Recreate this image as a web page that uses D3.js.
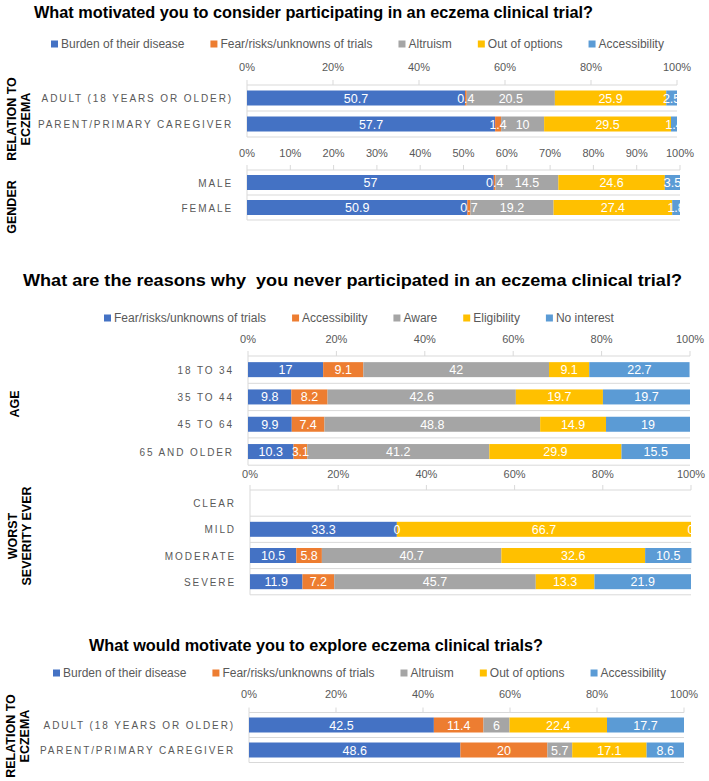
<!DOCTYPE html>
<html>
<head>
<meta charset="utf-8">
<script src="https://cdn.jsdelivr.net/npm/d3@7"></script>
<style>
  body { margin: 0; background: #fff; }
</style>
</head>
<body>
<div id="vis"></div>
<script>
// series names for the two kinds of chart
var motiveSeries = ['Burden of their disease', 'Fear/risks/unknowns of trials', 'Altruism', 'Out of options', 'Accessibility'];
var reasonSeries = ['Fear/risks/unknowns of trials', 'Accessibility', 'Aware', 'Eligibility', 'No interest'];
var seriesColors = ['#4472C4', '#ED7D31', '#A5A5A5', '#FFC000', '#5B9BD5'];

// categories
var relationCats = ['ADULT (18 YEARS OR OLDER)', 'PARENT/PRIMARY CAREGIVER'];
var genderCats = ['MALE', 'FEMALE'];
var ageCats = ['18 TO 34', '35 TO 44', '45 TO 64', '65 AND OLDER'];
var severityCats = ['CLEAR', 'MILD', 'MODERATE', 'SEVERE'];

// values, one row per category, one column per series
var relationValues = [
  [50.7, 0.4, 20.5, 25.9, 2.5],
  [57.7, 1.4, 10, 29.5, 1.4]
];
var genderValues = [
  [57, 0.4, 14.5, 24.6, 3.5],
  [50.9, 0.7, 19.2, 27.4, 1.8]
];
var ageValues = [
  [17, 9.1, 42, 9.1, 22.7],
  [9.8, 8.2, 42.6, 19.7, 19.7],
  [9.9, 7.4, 48.8, 14.9, 19],
  [10.3, 3.1, 41.2, 29.9, 15.5]
];
var severityValues = [
  [null, null, null, null, null],
  [33.3, 0, null, 66.7, 0],
  [10.5, 5.8, 40.7, 32.6, 10.5],
  [11.9, 7.2, 45.7, 13.3, 21.9]
];
var exploreValues = [
  [42.5, 11.4, 6, 22.4, 17.7],
  [48.6, 20, 5.7, 17.1, 8.6]
];

// tick values of the percent axes
var ticks20 = [0, 20, 40, 60, 80, 100];
var ticks10 = [0, 10, 20, 30, 40, 50, 60, 70, 80, 90, 100];

var width = 709;
var height = 781;
var gray = '#595959';
var lineColor = '#D9D9D9';
var barH = 15;

var svg = d3.select('#vis').append('svg')
  .attr('width', width)
  .attr('height', height)
  .style('font-family', '"Liberation Sans", Arial, sans-serif');

function addTitle(txt, x, y, len) {
  svg.append('text')
    .attr('x', x)
    .attr('y', y)
    .attr('font-size', 16)
    .attr('font-weight', 'bold')
    .attr('fill', '#000')
    .attr('textLength', len)
    .attr('lengthAdjust', 'spacingAndGlyphs')
    .style('white-space', 'pre')
    .text(txt);
}

function addLegend(names, x, y) {
  var g = svg.append('g');
  var cx = x;
  names.forEach(function (name, i) {
    g.append('rect')
      .attr('x', cx).attr('y', y - 3.5)
      .attr('width', 7).attr('height', 7)
      .attr('fill', seriesColors[i]);
    var t = g.append('text')
      .attr('x', cx + 10).attr('y', y + 4)
      .attr('font-size', 12)
      .attr('fill', gray)
      .text(name);
    cx += 10 + t.node().getComputedTextLength() + 26;
  });
}

// rotated group label, one or two lines
function addGroupLabel(lines, x, y) {
  lines.forEach(function (line, i) {
    var lx = x + i * 14;
    svg.append('text')
      .attr('x', lx).attr('y', y)
      .attr('transform', 'rotate(-90,' + lx + ',' + y + ')')
      .attr('text-anchor', 'middle')
      .attr('dominant-baseline', 'central')
      .attr('font-size', 12.5)
      .attr('font-weight', 'bold')
      .attr('fill', '#000')
      .text(line);
  });
}

// one horizontal 100% stacked bar panel
function drawPanel(cfg) {
  var x = d3.scaleLinear().domain([0, 100]).range([cfg.x0, cfg.x1]);
  var y = d3.scaleBand().domain(cfg.cats).range([cfg.top, cfg.top + cfg.band * cfg.cats.length]);
  var g = svg.append('g');
  var bottom = y.range()[1];

  // tick labels above the axis
  g.selectAll('.tl').data(cfg.ticks).enter().append('text')
    .attr('x', function (d) { return x(d); })
    .attr('y', cfg.labelY + 4)
    .attr('text-anchor', 'middle')
    .attr('font-size', 11)
    .attr('fill', gray)
    .text(function (d) { return d + '%'; });

  // axis line with tick marks
  g.append('line')
    .attr('x1', x(0)).attr('x2', x(100))
    .attr('y1', cfg.top).attr('y2', cfg.top)
    .attr('stroke', lineColor);
  g.selectAll('.tk').data(cfg.ticks).enter().append('line')
    .attr('x1', function (d) { return x(d); })
    .attr('x2', function (d) { return x(d); })
    .attr('y1', cfg.top - 5).attr('y2', cfg.top)
    .attr('stroke', lineColor);

  // category separators
  g.selectAll('.sep').data(cfg.cats).enter().append('line')
    .attr('x1', x(0)).attr('x2', x(100))
    .attr('y1', function (d) { return y(d) + y.bandwidth(); })
    .attr('y2', function (d) { return y(d) + y.bandwidth(); })
    .attr('stroke', lineColor);
  g.append('line')
    .attr('x1', x(0)).attr('x2', x(0))
    .attr('y1', cfg.top).attr('y2', bottom)
    .attr('stroke', lineColor);

  // category labels
  g.selectAll('.cat').data(cfg.cats).enter().append('text')
    .attr('x', x(0) - 14)
    .attr('y', function (d) { return y(d) + y.bandwidth() / 2 + 4; })
    .attr('text-anchor', 'end')
    .attr('font-size', 10)
    .attr('letter-spacing', 1.9)
    .attr('fill', gray)
    .text(function (d) { return d; });

  // stacked segments
  cfg.values.forEach(function (row, ci) {
    var acc = 0;
    var yy = y(cfg.cats[ci]) + (y.bandwidth() - barH) / 2;
    row.forEach(function (v, si) {
      if (v === null) return;
      var xs = x(acc);
      var xe = x(acc + v);
      g.append('rect')
        .attr('x', xs).attr('y', yy)
        .attr('width', xe - xs).attr('height', barH)
        .attr('fill', seriesColors[si]);
      acc += v;
    });
    acc = 0;
    row.forEach(function (v) {
      if (v === null) return;
      g.append('text')
        .attr('x', x(acc + v / 2))
        .attr('y', yy + barH / 2 + 4.5)
        .attr('text-anchor', 'middle')
        .attr('font-size', 12.5)
        .attr('fill', '#fff')
        .text(v);
      acc += v;
    });
  });
}

// section 1
addTitle('What motivated you to consider participating in an eczema clinical trial?', 34, 18, 559);
addLegend(motiveSeries, 51, 44);
drawPanel({ cats: relationCats, values: relationValues, ticks: ticks20, x0: 247, x1: 677, top: 85, band: 26, labelY: 67 });
drawPanel({ cats: genderCats, values: genderValues, ticks: ticks10, x0: 247, x1: 680, top: 170, band: 25, labelY: 153 });
addGroupLabel(['RELATION  TO', 'ECZEMA'], 12, 119);
addGroupLabel(['GENDER'], 12, 207);

// section 2
addTitle('What are the reasons why  you never participated in an eczema clinical trial?', 23, 286, 659);
addLegend(reasonSeries, 104, 318);
drawPanel({ cats: ageCats, values: ageValues, ticks: ticks20, x0: 248, x1: 690, top: 356, band: 27.3, labelY: 339 });
drawPanel({ cats: severityCats, values: severityValues, ticks: ticks20, x0: 250, x1: 691, top: 490, band: 26.2, labelY: 474 });
addGroupLabel(['AGE'], 15, 404);
addGroupLabel(['WORST', 'SEVERITY  EVER'], 13, 536);

// section 3
addTitle('What would motivate you to explore eczema clinical trials?', 89, 651, 454);
addLegend(motiveSeries, 53, 673);
drawPanel({ cats: relationCats, values: exploreValues, ticks: ticks20, x0: 249, x1: 684, top: 712.5, band: 25, labelY: 694 });
addGroupLabel(['RELATION  TO', 'ECZEMA'], 11, 736);
</script>
</body>
</html>
